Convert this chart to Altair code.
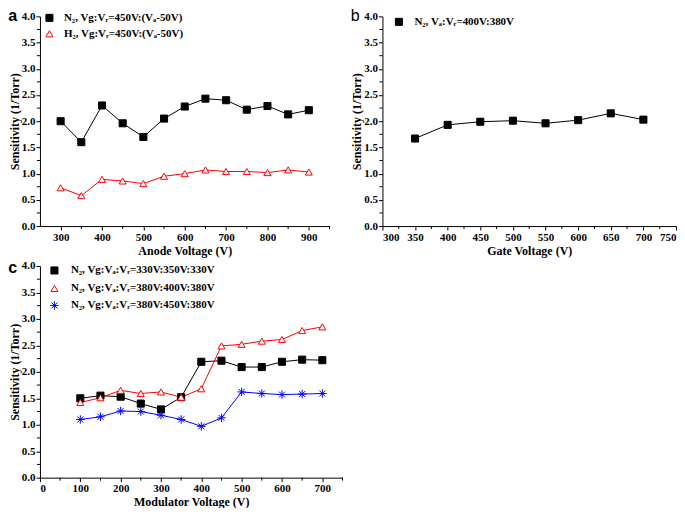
import altair as alt
import pandas as pd

# ---------------- data ----------------
A_X = [300, 350, 400, 450, 500, 550, 600, 650, 700, 750, 800, 850, 900]
A_N2 = [2.00, 1.60, 2.30, 1.96, 1.70, 2.05, 2.28, 2.43, 2.40, 2.22, 2.29, 2.13, 2.21]
A_H2 = [0.73, 0.58, 0.89, 0.86, 0.81, 0.95, 1.00, 1.07, 1.04, 1.04, 1.02, 1.07, 1.03]
A_NAMES = ["N₂, Vg:Vᵣ=450V:(Vₐ-50V)", "H₂, Vg:Vᵣ=450V:(Vₐ-50V)"]

B_X = [350, 400, 450, 500, 550, 600, 650, 700]
B_N2 = [1.67, 1.93, 1.99, 2.01, 1.96, 2.02, 2.15, 2.03]
B_NAMES = ["N₂, Vₐ:Vᵣ=400V:380V"]

C_X = [100, 150, 200, 250, 300, 350, 400, 450, 500, 550, 600, 650, 700]
C_S1 = [1.50, 1.55, 1.53, 1.40, 1.29, 1.52, 2.19, 2.21, 2.09, 2.09, 2.19, 2.23, 2.22]
C_S2 = [1.42, 1.51, 1.65, 1.59, 1.62, 1.52, 1.68, 2.49, 2.52, 2.58, 2.61, 2.78, 2.85]
C_S3 = [1.10, 1.15, 1.26, 1.25, 1.18, 1.10, 0.97, 1.13, 1.62, 1.59, 1.57, 1.58, 1.59]
C_NAMES = ["N₂, Vg:Vₐ:Vᵣ=330V:350V:330V",
           "N₂, Vg:Vₐ:Vᵣ=380V:400V:380V",
           "N₂, Vg:Vₐ:Vᵣ=380V:450V:380V"]

Y_TICKS = [0.0, 0.5, 1.0, 1.5, 2.0, 2.5, 3.0, 3.5, 4.0]
Y_MINOR = [0.25, 0.75, 1.25, 1.75, 2.25, 2.75, 3.25, 3.75]

A_XTICKS = [300, 400, 500, 600, 700, 800, 900]
A_XMINOR = [350, 450, 550, 650, 750, 850, 950]
B_XTICKS = [300, 350, 400, 450, 500, 550, 600, 650, 700, 750]
B_XMINOR = [325, 375, 425, 475, 525, 575, 625, 675, 725]
C_XTICKS = [0, 100, 200, 300, 400, 500, 600, 700]
C_XMINOR = [50, 150, 250, 350, 450, 550, 650, 750]

SERIF = "Liberation Serif"
SANS = "Liberation Sans"
ASTERISK = "M-1.2,0L1.2,0M0,-1.2L0,1.2M-0.85,-0.85L0.85,0.85M-0.85,0.85L0.85,-0.85"


def long_df(xs, series, names):
    rows = []
    for name, ys in zip(names, series):
        for x, y in zip(xs, ys):
            rows.append({"x": x, "y": y, "series": name})
    return pd.DataFrame(rows)


def panel(df, names, strokes, fills, shapes, xdomain, xticks, xminor, xtitle,
          w, h, legx, legy, rowpad, laboff, label, label_weight, label_offset):
    xenc = alt.X("x:Q", scale=alt.Scale(domain=xdomain, nice=False, zero=False),
                 axis=alt.Axis(values=xticks, format="d", title=xtitle))
    yenc = alt.Y("y:Q", scale=alt.Scale(domain=[0, 4], nice=False),
                 axis=alt.Axis(values=Y_TICKS, format=".1f", title="Sensitivity (1/Torr)"))
    leg = alt.Legend(title=None, orient="none", legendX=legx, legendY=legy,
                     labelFont=SERIF, labelFontWeight="bold", labelFontSize=11,
                     labelColor="black", symbolSize=50, symbolStrokeWidth=1,
                     rowPadding=rowpad, labelOffset=laboff, padding=0)
    stroke_scale = alt.Scale(domain=names, range=strokes)
    line = alt.Chart(df).mark_line(strokeWidth=1).encode(
        x=xenc, y=yenc,
        stroke=alt.Stroke("series:N", scale=stroke_scale, legend=leg),
    )
    pts = alt.Chart(df).mark_point(opacity=1, strokeWidth=1, size=50).encode(
        x=xenc, y=yenc,
        shape=alt.Shape("series:N", scale=alt.Scale(domain=names, range=shapes), legend=leg),
        stroke=alt.Stroke("series:N", scale=stroke_scale, legend=leg),
        fill=alt.Fill("series:N", scale=alt.Scale(domain=names, range=fills), legend=leg),
    )
    mx = alt.Chart(pd.DataFrame({"x": xminor})).mark_rule(color="black", strokeWidth=1).encode(
        x=xenc, y=alt.value(h), y2=alt.value(h + 3))
    my = alt.Chart(pd.DataFrame({"y": Y_MINOR})).mark_rule(color="black", strokeWidth=1).encode(
        y=yenc, x=alt.value(0), x2=alt.value(-3))
    return alt.layer(line, pts, mx, my).properties(
        width=w, height=h,
        title=alt.TitleParams(label, anchor="start", frame="bounds", font=SANS,
                              fontSize=16, fontWeight=label_weight, color="black",
                              offset=label_offset),
    )


dfa = long_df(A_X, [A_N2, A_H2], A_NAMES)
dfb = long_df(B_X, [B_N2], B_NAMES)
dfc = long_df(C_X, [C_S1, C_S2, C_S3], C_NAMES)

pa = panel(dfa, A_NAMES, ["black", "red"], ["black", "white"], ["square", "triangle-up"],
           [250, 950], A_XTICKS, A_XMINOR, "Anode Voltage (V)", 290, 210, 4, -4, 3, 9,
           "a", "bold", -14)
pb = panel(dfb, B_NAMES, ["black"], ["black"], ["square"],
           [300, 750], B_XTICKS, B_XMINOR, "Gate Voltage (V)", 294, 210, 11, 0, 3, 10,
           "b", "normal", -14)
pc = panel(dfc, C_NAMES, ["black", "red", "blue"], ["black", "white", "blue"],
           ["square", "triangle-up", ASTERISK],
           [0, 750], C_XTICKS, C_XMINOR, "Modulator Voltage (V)", 303, 212, 9, -1, 5, 11,
           "c", "bold", -16)

IND = dict(shape="independent", stroke="independent", fill="independent")

top = alt.hconcat(pa, pb, spacing=20).resolve_scale(**IND)

chart = alt.vconcat(top, pc, spacing=4).resolve_scale(**IND).properties(
    padding={"left": 0, "top": 0, "right": 0, "bottom": 0}
).configure_view(stroke=None).configure_axis(
    labelFont=SERIF, labelFontWeight="bold", labelFontSize=11, labelColor="black",
    titleFont=SERIF, titleFontWeight="bold", titleFontSize=12, titleColor="black",
    domainColor="black", tickColor="black", tickSize=4, grid=False,
    labelPadding=1,
).configure_axisY(titlePadding=0).configure_axisX(titlePadding=3)

chart.save("out.html", embed_options={"renderer": "svg", "actions": False})
